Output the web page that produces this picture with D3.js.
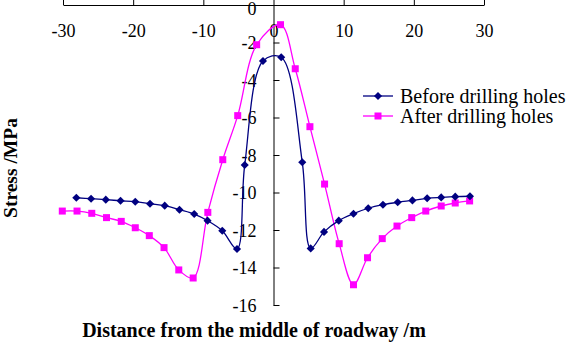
<!DOCTYPE html>
<html>
<head>
<meta charset="utf-8">
<script src="https://cdn.jsdelivr.net/npm/d3@7"></script>
<style>
  body { margin: 0; background: #fff; }
  svg text { font-family: "Liberation Serif", "Times New Roman", serif !important; }
</style>
</head>
<body>
<svg></svg>
<script>
// Chart size and plot box
const width = 566;
const height = 345;
const plotLeft = 63;
const plotRight = 484;
const plotTop = 5;
const plotBottom = 305;

// Data: distance (m) and stress (MPa)
const beforeX = [-28.1, -26.0, -23.9, -21.8, -19.7, -17.6, -15.5, -13.4, -11.3, -9.4, -7.3, -5.2,
  -4.1, -1.5, 1.1, 4.1,
  5.3, 7.2, 9.3, 11.4, 13.5, 15.6, 17.7, 19.8, 21.9, 23.9, 25.9, 28.0];
const beforeY = [-10.28, -10.33, -10.38, -10.44, -10.49, -10.6, -10.7, -10.92, -11.15, -11.5, -12.04, -13.01,
  -8.53, -2.99, -2.79, -8.39,
  -12.98, -12.1, -11.5, -11.13, -10.84, -10.65, -10.52, -10.42, -10.31, -10.26, -10.22, -10.2];

const afterX = [-30.1, -28.0, -25.9, -23.8, -21.7, -19.7, -17.7, -15.6, -13.5, -11.45, -9.36, -7.23,
  -5.1, -2.4, 1.0, 3.1, 5.19, 7.28, 9.36,
  11.4, 13.4, 15.5, 17.6, 19.7, 21.7, 23.9, 25.9, 27.95];
const afterY = [-10.99, -10.99, -11.11, -11.34, -11.54, -11.88, -12.3, -12.94, -14.13, -14.56, -11.06, -8.25,
  -5.9, -2.12, -1.05, -3.4, -6.49, -9.55, -12.73,
  -14.92, -13.48, -12.46, -11.79, -11.34, -10.99, -10.72, -10.56, -10.45];

const seriesNames = ["Before drilling holes", "After drilling holes"];
const seriesColors = ["#000080", "#ff00ff"];

const xTicks = [-30, -20, -10, 0, 10, 20, 30];
const yTicks = [0, -2, -4, -6, -8, -10, -12, -14, -16];

const svg = d3.select("svg")
    .attr("width", width)
    .attr("height", height)
    .attr("viewBox", [0, 0, width, height]);

const x = d3.scaleLinear([-30, 30], [plotLeft, plotRight]);
const y = d3.scaleLinear([-16, 0], [plotBottom, plotTop]);

const fmt = d => d < 0 ? "-" + Math.abs(d) : String(d);

// x axis runs along the top (at stress 0), ticks point up, labels sit below
svg.append("g")
    .attr("transform", `translate(0,${y(0)})`)
    .call(d3.axisTop(x).tickValues(xTicks).tickSize(5).tickSizeOuter(0).tickFormat(fmt))
    .call(g => g.attr("font-family", "Liberation Serif").attr("font-size", 18))
    .call(g => g.selectAll("path, line").attr("stroke", "#000"))
    .call(g => g.selectAll("text")
        .attr("y", 26)
        .attr("dy", "0.35em")
        .attr("fill", "#000"));

// y axis at distance 0, ticks point right, labels on the left
svg.append("g")
    .attr("transform", `translate(${x(0)},0)`)
    .call(d3.axisRight(y).tickValues(yTicks).tickSize(6).tickSizeOuter(0).tickFormat(fmt))
    .call(g => g.attr("font-family", "Liberation Serif").attr("font-size", 18))
    .call(g => g.selectAll("path, line").attr("stroke", "#000"))
    .call(g => g.selectAll("text")
        .attr("x", -17)
        .attr("dy", d => d === 0 ? "0.5em" : "0.35em")
        .attr("text-anchor", "end")
        .attr("fill", "#000"));

const line = d3.line()
    .x(d => x(d[0]))
    .y(d => y(d[1]))
    .curve(d3.curveCatmullRom.alpha(0.5));

const before = d3.zip(beforeX, beforeY);
const after = d3.zip(afterX, afterY);

// After drilling holes (magenta squares)
svg.append("path")
    .datum(after)
    .attr("fill", "none")
    .attr("stroke", seriesColors[1])
    .attr("stroke-width", 1.3)
    .attr("d", line);
svg.append("g")
    .selectAll("rect")
    .data(after)
    .join("rect")
    .attr("x", d => x(d[0]) - 3.5)
    .attr("y", d => y(d[1]) - 3.5)
    .attr("width", 7)
    .attr("height", 7)
    .attr("fill", seriesColors[1]);

// Before drilling holes (navy diamonds)
svg.append("path")
    .datum(before)
    .attr("fill", "none")
    .attr("stroke", seriesColors[0])
    .attr("stroke-width", 1.3)
    .attr("d", line);
const diamond = d3.symbol(d3.symbolDiamond2, 42);
svg.append("g")
    .selectAll("path")
    .data(before)
    .join("path")
    .attr("transform", d => `translate(${x(d[0])},${y(d[1])})`)
    .attr("d", diamond)
    .attr("fill", seriesColors[0]);

// Legend
const legend = svg.append("g");
seriesNames.forEach((name, i) => {
  const ly = 96 + i * 20;
  legend.append("line")
      .attr("x1", 363).attr("x2", 393)
      .attr("y1", ly).attr("y2", ly)
      .attr("stroke", seriesColors[i])
      .attr("stroke-width", 1.3);
  if (i === 0) {
    legend.append("path")
        .attr("transform", `translate(378,${ly})`)
        .attr("d", diamond)
        .attr("fill", seriesColors[i]);
  } else {
    legend.append("rect")
        .attr("x", 378 - 3.5).attr("y", ly - 3.5)
        .attr("width", 7).attr("height", 7)
        .attr("fill", seriesColors[i]);
  }
  legend.append("text")
      .attr("x", 400)
      .attr("y", ly)
      .attr("dy", "0.33em")
      .attr("font-size", 20)
      .attr("fill", "#000")
      .text(name);
});

// Axis titles
svg.append("text")
    .attr("transform", "translate(17,168) rotate(-90)")
    .attr("text-anchor", "middle")
    .attr("font-size", 19.5)
    .attr("font-weight", "bold")
    .attr("fill", "#000")
    .text("Stress /MPa");

svg.append("text")
    .attr("x", 254)
    .attr("y", 337)
    .attr("text-anchor", "middle")
    .attr("font-size", 20)
    .attr("font-weight", "bold")
    .attr("fill", "#000")
    .text("Distance from the middle of roadway /m");
</script>
</body>
</html>
